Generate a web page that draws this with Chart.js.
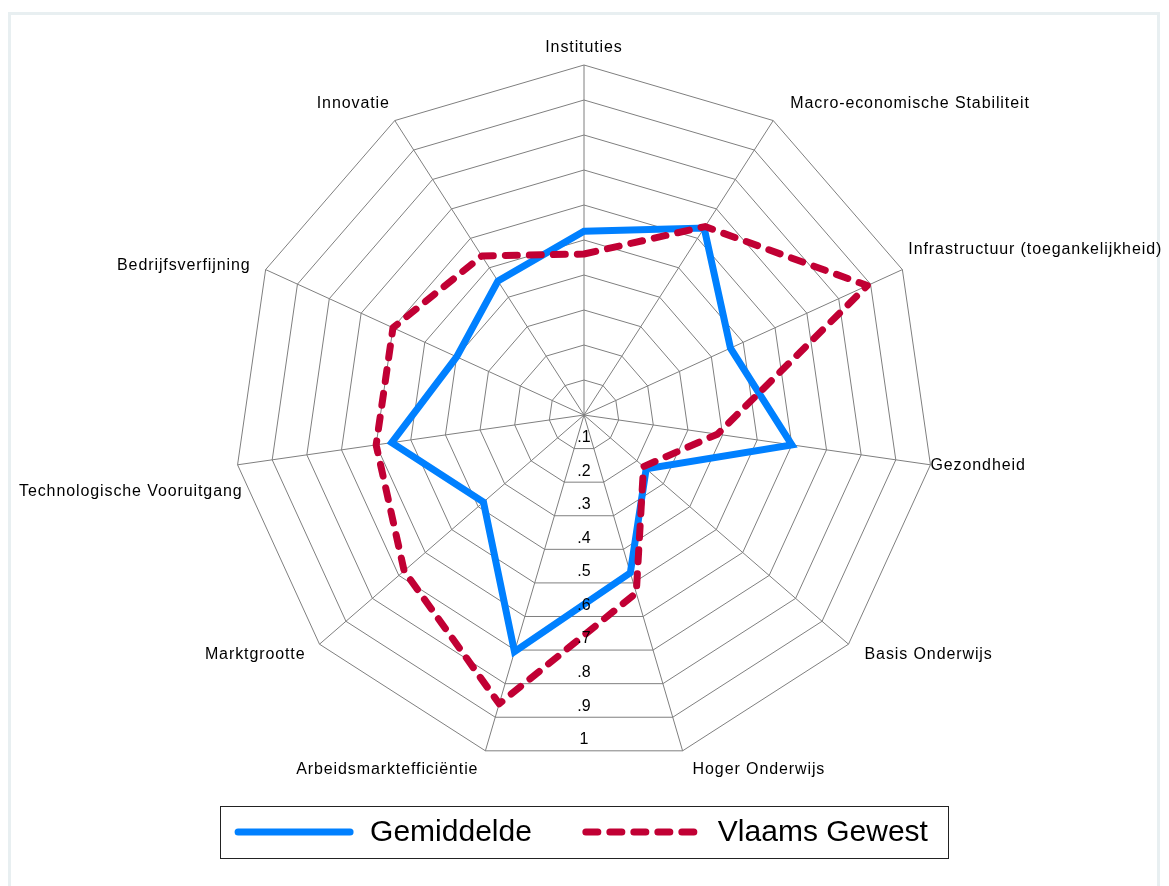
<!DOCTYPE html>
<html>
<head>
<meta charset="utf-8">
<script src="https://cdn.jsdelivr.net/npm/chart.js@4.4.1/dist/chart.umd.min.js"></script>
<style>
  html, body { margin: 0; padding: 0; background: #fff; overflow: hidden; }
  #frame { position: absolute; left: 8px; top: 12px; width: 1146px; height: 871px; border: 3px solid #e8eff1; z-index: 0; }
  #radar { position: absolute; left: 0; top: 0; display: block; z-index: 1; }
</style>
</head>
<body>
<div id="frame"></div>
<canvas id="radar" width="1169" height="886"></canvas>
<script>
const categories = [
  'Instituties',
  'Macro-economische Stabiliteit',
  'Infrastructuur (toegankelijkheid)',
  'Gezondheid',
  'Basis Onderwijs',
  'Hoger Onderwijs',
  'Arbeidsmarktefficiëntie',
  'Marktgrootte',
  'Technologische Vooruitgang',
  'Bedrijfsverfijning',
  'Innovatie'
];
const seriesNames = ['Gemiddelde', 'Vlaams Gewest'];
const gemiddelde   = [0.525, 0.635, 0.46, 0.60, 0.235, 0.47, 0.705, 0.38, 0.555, 0.40, 0.455];
const vlaamsGewest = [0.46, 0.64, 0.89, 0.385, 0.225, 0.53, 0.86, 0.68, 0.60, 0.60, 0.54];
const tickValues = [0.1, 0.2, 0.3, 0.4, 0.5, 0.6, 0.7, 0.8, 0.9, 1];
const tickLabels = ['.1', '.2', '.3', '.4', '.5', '.6', '.7', '.8', '.9', '1'];

// where each category label sits relative to its outer vertex: dx, dy, align
const labelPlacement = [
  [0, -17, 'center'],
  [17, -17, 'left'],
  [6, -20, 'left'],
  [0, 1, 'left'],
  [16, 10, 'left'],
  [10, 19, 'left'],
  [-7, 19, 'right'],
  [-14, 10, 'right'],
  [5, 27, 'right'],
  [-15, -4, 'right'],
  [-5, -17, 'right']
];

const FONT = '"Liberation Sans", Arial, sans-serif';
const GRID = '#7f7f7f';

// tick labels down the bottom + category labels
const radarText = {
  id: 'radarText',
  afterDatasetsDraw(chart) {
    const scale = chart.scales.r;
    const ctx = chart.ctx;
    ctx.save();
    ctx.fillStyle = '#000';
    ctx.font = '16px ' + FONT;
    ctx.textBaseline = 'middle';
    ctx.textAlign = 'center';
    const edge = Math.cos(Math.PI / categories.length);
    tickValues.forEach((v, i) => {
      const d = scale.getDistanceFromCenterForValue(v);
      ctx.fillText(tickLabels[i], scale.xCenter, scale.yCenter + d * edge - 11);
    });
    if ('letterSpacing' in ctx) ctx.letterSpacing = '0.9px';
    categories.forEach((c, i) => {
      const p = scale.getPointPosition(i, scale.drawingArea);
      const [dx, dy, align] = labelPlacement[i];
      ctx.textAlign = align;
      ctx.fillText(c, p.x + dx, p.y + dy);
    });
    ctx.restore();
  }
};

// legend in a box under the chart
const boxedLegend = {
  id: 'boxedLegend',
  afterDraw(chart) {
    const ctx = chart.ctx;
    const sets = chart.data.datasets;
    ctx.save();
    ctx.font = '30px ' + FONT;
    const lineLen = 120, gap = 16, between = 50;
    const widths = sets.map(s => ctx.measureText(s.label).width);
    const total = widths.reduce((a, w) => a + lineLen + gap + w, 0) + between * (sets.length - 1);
    const y = 832;
    let x = chart.scales.r.xCenter - 3 - total / 2;
    ctx.strokeStyle = '#222';
    ctx.lineWidth = 1;
    ctx.strokeRect(Math.round(x - 14) + 0.5, y - 26 + 0.5, Math.round(total + 34), 52);
    sets.forEach((s, i) => {
      ctx.save();
      ctx.strokeStyle = s.borderColor;
      ctx.lineWidth = s.borderWidth;
      ctx.lineCap = 'round';
      ctx.setLineDash(s.borderDash || []);
      ctx.beginPath();
      ctx.moveTo(x + 4, y);
      ctx.lineTo(x + lineLen - 4, y);
      ctx.stroke();
      ctx.restore();
      ctx.fillStyle = '#000';
      ctx.textBaseline = 'middle';
      ctx.textAlign = 'left';
      ctx.fillText(s.label, x + lineLen + gap, y + 1);
      x += lineLen + gap + widths[i] + between;
    });
    ctx.restore();
  }
};

new Chart(document.getElementById('radar'), {
  type: 'radar',
  data: {
    labels: categories,
    datasets: [{
      label: seriesNames[0],
      data: gemiddelde,
      borderColor: 'rgb(0, 128, 255)',
      borderWidth: 7,
      borderJoinStyle: 'miter',
      fill: false,
      pointRadius: 0,
      order: 2
    }, {
      label: seriesNames[1],
      data: vlaamsGewest,
      borderColor: 'rgb(193, 0, 52)',
      borderWidth: 7,
      borderDash: [12, 12],
      borderCapStyle: 'round',
      borderJoinStyle: 'round',
      fill: false,
      pointRadius: 0,
      order: 1
    }]
  },
  options: {
    responsive: false,
    animation: false,
    layout: { padding: { top: 65, bottom: 121, left: 234, right: 235 } },
    elements: { line: { tension: 0 } },
    plugins: {
      legend: { display: false },
      tooltip: { enabled: false }
    },
    scales: {
      r: {
        min: 0,
        max: 1,
        ticks: { display: false, stepSize: 0.1 },
        grid: { color: GRID, lineWidth: 1 },
        angleLines: { color: GRID, lineWidth: 1 },
        pointLabels: { display: false }
      }
    }
  },
  plugins: [radarText, boxedLegend]
});
</script>
</body>
</html>
